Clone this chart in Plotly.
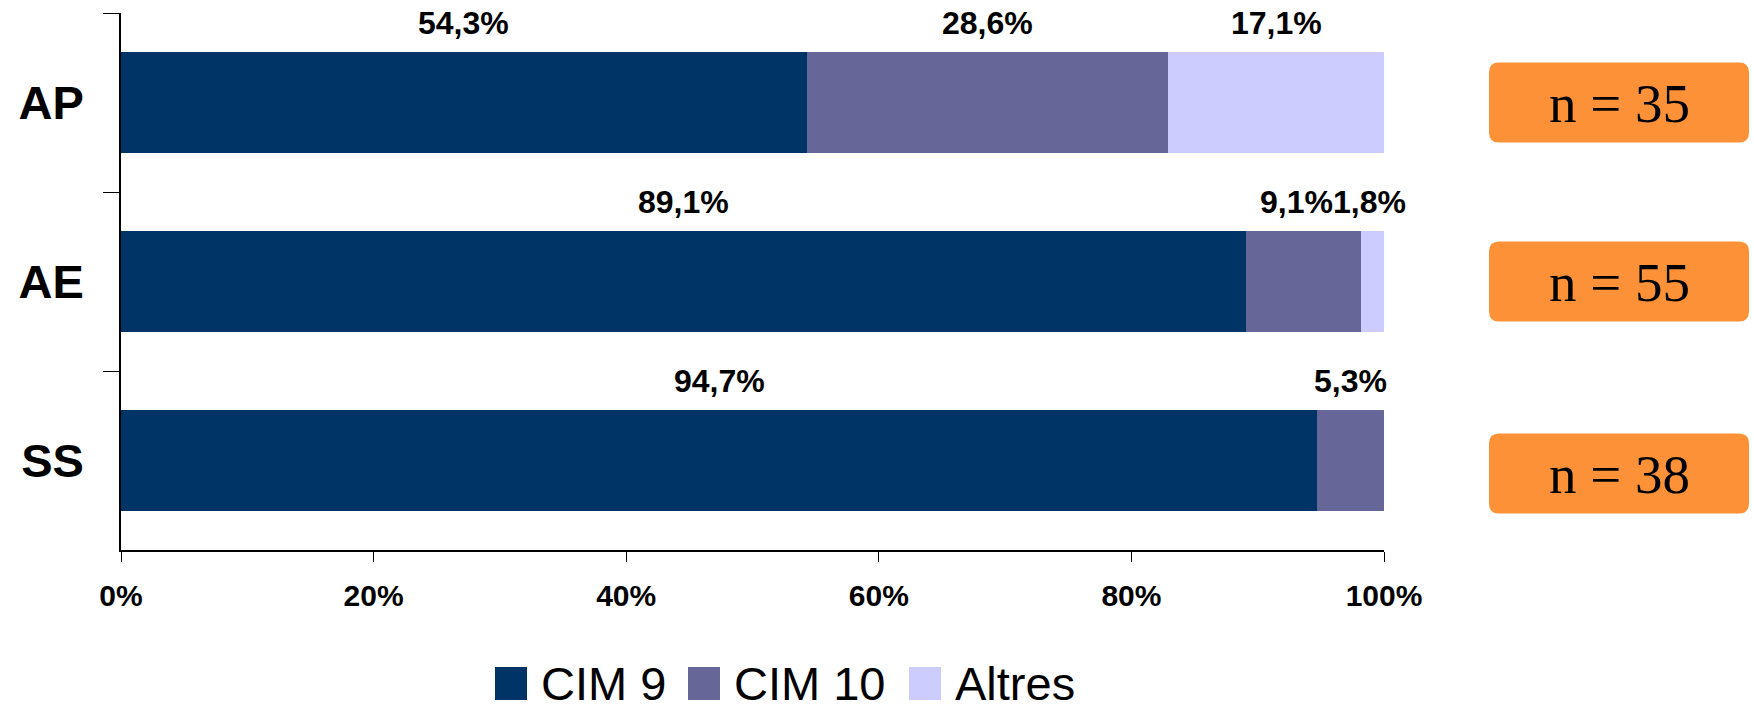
import plotly.graph_objects as go

# ---------------- data ----------------
categories = ["AP", "AE", "SS"]
series_names = ["CIM 9", "CIM 10", "Altres"]
cim9 = [54.3, 89.1, 94.7]
cim10 = [28.6, 9.1, 5.3]
altres = [17.1, 1.8, 0.0]
n_counts = [35, 55, 38]
x_tick_vals = [0, 20, 40, 60, 80, 100]
x_tick_labels = ["0%", "20%", "40%", "60%", "80%", "100%"]

# ---------------- style / layout ----------------
colors = ["#003366", "#666699", "#CCCCFF"]
box_color = "#FD9137"
W, H = 1754, 705
L, R, T, B = 121, 1384, 13, 550          # plot area in pixels
SANS = "Liberation Sans, Arial, sans-serif"
SERIF = "Liberation Serif, Times New Roman, serif"


def px2paper(px, py):
    return (px - L) / (R - L), (B - py) / (B - T)


def rr_path(x0, y0, x1, y1, r):
    pts = [
        ("M", [(x0 + r, y0)]), ("L", [(x1 - r, y0)]), ("Q", [(x1, y0), (x1, y0 + r)]),
        ("L", [(x1, y1 - r)]), ("Q", [(x1, y1), (x1 - r, y1)]),
        ("L", [(x0 + r, y1)]), ("Q", [(x0, y1), (x0, y1 - r)]),
        ("L", [(x0, y0 + r)]), ("Q", [(x0, y0), (x0 + r, y0)]),
    ]
    s = ""
    for cmd, plist in pts:
        s += cmd + " ".join("%.5f,%.5f" % px2paper(a, b) for a, b in plist) + " "
    return s + "Z"


fig = go.Figure()
series = [cim9, cim10, altres]
for name, vals, col in zip(series_names, series, colors):
    fig.add_trace(go.Bar(
        y=categories, x=vals, orientation="h", name=name,
        marker=dict(color=col, line=dict(width=0)), showlegend=False,
        hoverinfo="skip",
    ))

annotations = []
shapes = []

# data labels above each segment
LABEL_FONT = 32
for ci, cat in enumerate(categories):
    start = 0.0
    items = []
    for vals in series:
        v = vals[ci]
        if v > 0:
            items.append([start + v / 2.0, ("%.1f%%" % v).replace(".", ","), 0])
        start += v
    # simple overlap avoidance (in pixels)
    for k in range(len(items) - 1, 0, -1):
        a, b = items[k - 1], items[k]
        pa = a[0] / 100 * (R - L) + a[2]
        pb = b[0] / 100 * (R - L) + b[2]
        need = 0.58 * LABEL_FONT * (len(a[1]) + len(b[1])) / 2.0
        if pb - pa < need:
            items[k - 1][2] -= (need - (pb - pa)) + 2
            items[k][2] -= 3
    for xc, txt, dx in items:
        annotations.append(dict(
            x=xc, y=cat, xref="x", yref="y", text=txt, showarrow=False,
            xanchor="center", yanchor="middle", xshift=dx, yshift=80,
            font=dict(family=SANS, size=LABEL_FONT, color="black", weight="bold"),
        ))

# n = boxes
cat_h = (B - T) / len(categories)
box_dy = [0, 0, 13]
for i, n in enumerate(n_counts):
    cy = T + (i + 0.5) * cat_h + box_dy[i]
    x0, x1 = 1489, 1749
    shapes.append(dict(type="path", xref="paper", yref="paper",
                       path=rr_path(x0, cy - 40, x1, cy + 40, 10),
                       fillcolor=box_color, line=dict(width=0), layer="above"))
    xp, yp = px2paper((x0 + x1) / 2.0, cy + 1)
    annotations.append(dict(
        x=xp, y=yp, xref="paper", yref="paper", text="n = %d" % n,
        showarrow=False, xanchor="center", yanchor="middle",
        font=dict(family=SERIF, size=55, color="black"),
    ))

# custom legend
legend_x = [495, 688, 909]
leg_cy = 683
for name, col, lx in zip(series_names, colors, legend_x):
    ax0, ay0 = px2paper(lx, leg_cy + 17)
    ax1, ay1 = px2paper(lx + 32, leg_cy - 16)
    shapes.append(dict(type="rect", xref="paper", yref="paper",
                       x0=ax0, y0=ay0, x1=ax1, y1=ay1,
                       fillcolor=col, line=dict(width=0)))
    tx, ty = px2paper(lx + 45, leg_cy)
    annotations.append(dict(
        x=tx, y=ty, xref="paper", yref="paper", text=name, showarrow=False,
        xanchor="left", yanchor="middle", borderpad=0,
        font=dict(family=SANS, size=47, color="black"),
    ))

fig.update_layout(
    barmode="stack", bargap=0.44,
    width=W, height=H,
    margin=dict(l=L, r=W - R, t=T, b=H - B, pad=0, autoexpand=False),
    paper_bgcolor="white", plot_bgcolor="white",
    showlegend=False,
    annotations=annotations, shapes=shapes,
    xaxis=dict(
        range=[0, 100], tickmode="array", tickvals=x_tick_vals, ticktext=x_tick_labels,
        ticks="outside", ticklen=10, tickwidth=1.2, tickcolor="black",
        showline=True, linecolor="black", linewidth=1.5,
        showgrid=False, zeroline=False, fixedrange=True,
        tickfont=dict(family=SANS, size=30, color="black", weight="bold"),
        ticklabelstandoff=8,
    ),
    yaxis=dict(
        categoryorder="array", categoryarray=categories, range=[2.5, -0.5],
        ticks="outside", tickson="boundaries", ticklen=16, tickwidth=1.2, tickcolor="black",
        showline=True, linecolor="black", linewidth=1.5,
        showgrid=False, zeroline=False, fixedrange=True,
        tickfont=dict(family=SANS, size=47, color="black", weight="bold"),
        ticklabelstandoff=26,
    ),
)

fig.write_html(
    "out.html",
    config={"displayModeBar": False},
    post_script="document.body.style.margin='0';document.body.style.overflow='hidden';",
)
